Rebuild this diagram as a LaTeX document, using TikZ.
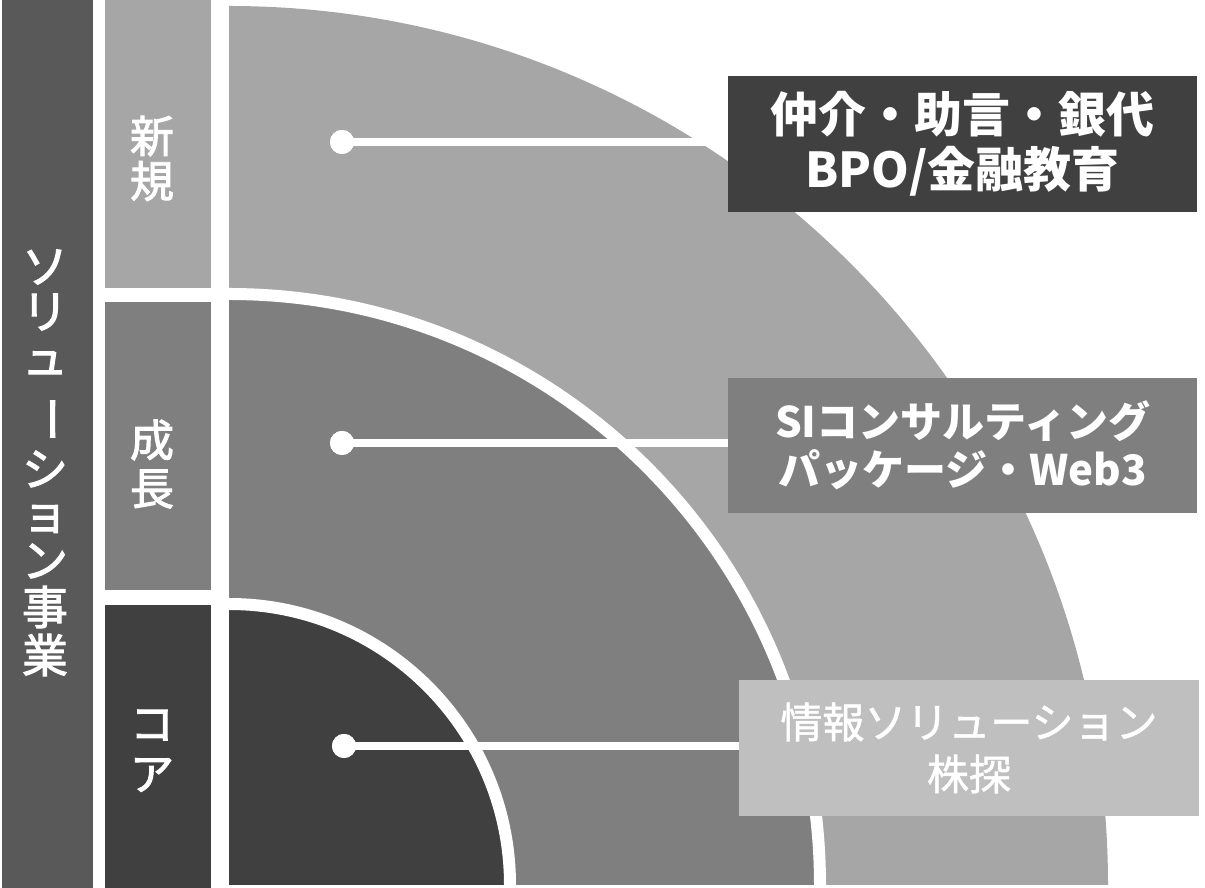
\documentclass[tikz,border=0pt]{standalone}
\usepackage{fontspec}
\setmainfont{Noto Sans CJK JP}
\newfontfamily\jp{Noto Sans CJK JP}
\newfontfamily\jpmed[FakeBold=2.2]{Noto Sans CJK JP}
\newfontfamily\jplite[FakeBold=1.2]{Noto Sans CJK JP}
\definecolor{barc}{HTML}{595959}
\definecolor{lightc}{HTML}{A6A6A6}
\definecolor{midc}{HTML}{7F7F7F}
\definecolor{darkc}{HTML}{404040}
\definecolor{paleboxc}{HTML}{BFBFBF}
\begin{document}
\begin{tikzpicture}[x=1pt,y=1pt,
  vchar/.style={text=white,inner sep=0pt,font=\jpmed\fontsize{46}{46}\selectfont},
  colchar/.style={text=white,inner sep=0pt,font=\jpmed\fontsize{44}{44}\selectfont},
  dotnode/.style={circle,fill=white,inner sep=0pt,minimum size=24pt},
  link/.style={draw=white,line width=8pt},
  arcline/.style={draw=white,line width=12pt},
  labelbox/.style={inner sep=0pt,outer sep=0pt,text=white,align=center}]
\useasboundingbox (0,0) rectangle (1205,888);
% left bar
\fill[barc] (2,0) rectangle (93,888);
\node[vchar] (lb1) at (45,621) {ソ};
\node[vchar] (lb2) at (45,576) {リ};
\node[vchar] (lb3) at (45,525) {ュ};
\node[vchar,rotate=-90] (lb4) at (45,469) {ー};
\node[vchar] (lb5) at (45,419) {シ};
\node[vchar] (lb6) at (45,369) {ョ};
\node[vchar] (lb7) at (45,327) {ン};
\node[vchar] (lb8) at (45,281) {事};
\node[vchar] (lb9) at (45,233) {業};
% column of stages
\fill[lightc] (105,600) rectangle (211,888);
\fill[midc] (105,298) rectangle (211,586);
\fill[darkc] (105,0) rectangle (211,283);
\node[colchar] (s1a) at (152,752) {新};
\node[colchar] (s1b) at (152,707) {規};
\node[colchar] (s2a) at (152,448) {成};
\node[colchar] (s2b) at (152,399) {長};
\node[colchar] (s3a) at (152,163) {コ};
\node[colchar] (s3b) at (152,113) {ア};
% quarter discs
\coordinate (O) at (229,3);
\fill[lightc] (O) -- ++(879,0) arc[start angle=0,end angle=90,radius=879pt] -- cycle;
\fill[midc] (O) -- ++(591,0) arc[start angle=0,end angle=90,radius=591pt] -- cycle;
\draw[arcline] ([xshift=591pt]O) arc[start angle=0,end angle=90,radius=591pt];
\fill[darkc] (O) -- ++(281,0) arc[start angle=0,end angle=90,radius=281pt] -- cycle;
\draw[arcline] ([xshift=281pt]O) arc[start angle=0,end angle=90,radius=281pt];
% boxes
\node[labelbox,fill=darkc,minimum width=469pt,minimum height=136pt,
  font=\jp\bfseries\fontsize{48}{55}\selectfont] (box1) at (962.5,744)
  {仲介・助言・銀代\\BPO/金融教育};
\node[labelbox,fill=midc,minimum width=469pt,minimum height=135pt,
  font=\jp\bfseries\fontsize{42}{48}\selectfont] (box2) at (962.5,442.5)
  {SIコンサルティング\\パッケージ・Web3};
\node[labelbox,fill=paleboxc,minimum width=460pt,minimum height=136pt,
  font=\jplite\fontsize{42}{52}\selectfont] (box3) at (969,140)
  {情報ソリューション\\株探};
% dots and links
\node[dotnode] (d1) at (342,746) {};
\node[dotnode] (d2) at (342,445) {};
\node[dotnode] (d3) at (344,142) {};
\draw[link] (d1.center) -- (d1 -| box1.west);
\draw[link] (d2.center) -- (d2 -| box2.west);
\draw[link] (d3.center) -- (d3 -| box3.west);
\node[dotnode] at (d1) {};
\node[dotnode] at (d2) {};
\node[dotnode] at (d3) {};
\end{tikzpicture}
\end{document}
